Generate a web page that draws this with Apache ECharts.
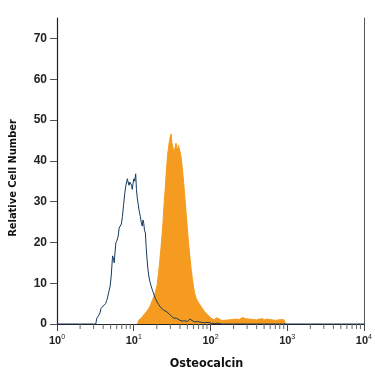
<!DOCTYPE html>
<html>
<head>
<meta charset="utf-8">
<script src="https://cdn.jsdelivr.net/npm/echarts@6/dist/echarts.min.js"></script>
<style>html,body{margin:0;padding:0;background:#fff}#c{width:375px;height:375px}</style>
</head>
<body>
<div id="c"></div>
<script>
// Orange (Osteocalcin stained) histogram: [fluorescence, relative cell number]
var stainedData = [[11.2,0],[11.7,1.0],[12.5,1.4],[13.2,1.8],[14.0,2.6],[14.9,3.2],[15.7,3.8],[16.5,4.6],[17.3,5.6],[18.2,6.6],[19.1,7.8],[20.1,9.4],[20.9,12],[21.7,15],[22.5,18],[23.3,21.5],[24.0,24.5],[24.4,27],[25.0,30],[25.7,33],[26.3,36],[27.0,39],[27.6,41.5],[28.3,43],[29.0,44.5],[29.8,45.7],[30.7,46.6],[31.4,44.5],[32.2,43.6],[32.9,42.5],[33.5,41.8],[34.5,43.2],[35.6,44.3],[36.3,43.4],[37.4,42.6],[38.3,43.8],[39.3,43.4],[40.0,42.2],[41.2,41.3],[42.2,39.5],[43.3,37.6],[44.8,34.5],[46.4,31],[48.0,27.5],[49.7,24],[51.7,20],[53.8,16.7],[56.0,13.5],[58.2,11],[60.3,9],[62.4,7.4],[65.5,6.2],[68.9,5.4],[72.3,4.8],[76.0,4.2],[79.9,3.6],[83.9,3.0],[88.1,2.6],[92.6,2.2],[97,1.8],[102,1.4],[107,1.2],[113,1.0],[118,1.5],[122,1.9],[126,1.4],[131,1.0],[137,0.9],[145,1.1],[153,0.9],[162,1.2],[171,1.0],[180,0.8],[190,1.1],[200,1.0],[212,1.2],[224,0.9],[237,1.1],[250,1.3],[262,1.6],[274,1.9],[287,1.3],[300,1.0],[318,1.2],[337,0.9],[357,1.1],[378,1.3],[400,1.0],[425,1.2],[450,0.9],[478,1.3],[508,1.0],[540,1.2],[573,0.9],[608,1.1],[645,1.3],[685,0.9],[727,1.2],[772,1.0],[820,1.1],[870,1.3],[915,1.0],[940,1.1],[950,0]];

// Blue outline (isotype control) histogram
var controlData = [[1,0],[3.2,0],[3.24,0.2],[3.3,1.4],[3.5,1.5],[3.6,2.5],[3.75,3.8],[3.9,3.5],[4.0,4.4],[4.14,4.2],[4.3,5],[4.45,5.8],[4.57,6.6],[4.75,8],[4.94,9.4],[5.1,12],[5.30,16.7],[5.45,16],[5.57,15],[5.7,17.5],[5.85,19.9],[6.05,20.5],[6.27,21.5],[6.45,23.5],[6.65,24],[6.9,24.5],[7.12,26.3],[7.35,29],[7.63,32],[7.9,34],[8.26,35.6],[8.45,34.8],[8.67,34],[8.9,34.8],[9.12,35.2],[9.35,34],[9.57,33],[9.8,34.5],[10.06,35.6],[10.3,35],[10.6,36.8],[10.85,33],[11.1,31],[11.4,29.5],[11.7,28],[12.0,27],[12.2,26.3],[12.5,25],[12.9,24],[13.2,25.5],[13.5,24.7],[13.8,23],[14.2,22.3],[14.5,19],[14.9,15.9],[15.3,13.5],[15.7,11.8],[16.2,10.5],[16.8,9.4],[17.5,8.3],[18.2,7.4],[19.1,6.3],[20.1,5.4],[21.1,4.8],[22.2,4.2],[23.3,3.8],[24.4,3.4],[25.7,3.0],[27.0,3.0],[28.3,2.6],[29.8,2.2],[31.3,1.8],[32.9,1.5],[34.5,1.7],[36.3,1.4],[38.2,1.0],[40.0,0.9],[43.3,0.7],[46.4,0.8],[50,0.6],[53.8,1.2],[57,0.8],[62,0.5],[68,0.6],[76,0.4],[84,0.3],[93,0.4],[102,0.2],[113,0.1],[119,0.5],[125,0.2],[140,0],[10000,0]];

// Axis settings
var xMin = 1, xMax = 10000;
var xTickExponents = ['0','1','2','3','4'];
var minorTickValues = [2,3,4,5,6,7,8,9,20,30,40,50,60,70,80,90,200,300,400,500,600,700,800,900,2000,3000,4000,5000,6000,7000,8000,9000];
var yMin = 0, yMax = 75, yInterval = 10;
var xTitle = 'Osteocalcin';
var yTitle = 'Relative Cell Number';

var numFont = "'Liberation Sans', Arial, Roboto, 'DejaVu Sans', sans-serif";
var titleFont = "'Liberation Sans Narrow', 'DejaVu Sans Condensed', 'Roboto Condensed', Roboto, sans-serif";

var chart = echarts.init(document.getElementById('c'), null, {renderer: 'canvas'});
var axisColor = '#222';
var option = {
  animation: false,
  backgroundColor: '#fff',
  grid: {left: 55, right: 8, top: 18, bottom: 46},
  xAxis: {
    type: 'log', logBase: 10, min: xMin, max: xMax,
    axisLine: {show: true, lineStyle: {color: axisColor, width: 1.2}},
    axisTick: {show: true, length: 7, lineStyle: {color: '#444'}},
    splitLine: {show: false},
    minorTick: {show: false},
    axisLabel: {
      margin: 10,
      formatter: function (v) {
        var e = Math.round(Math.log10(v));
        return '{b|10}{s|' + xTickExponents[e] + '}';
      },
      rich: {
        b: {fontFamily: numFont, fontSize: 11, color: '#222', fontWeight: 'bold'},
        s: {fontFamily: numFont, fontSize: 7, color: '#222', padding: [0, 0, 6, 0]}
      }
    },
    name: xTitle, nameLocation: 'middle', nameGap: 33,
    nameTextStyle: {fontFamily: titleFont, fontWeight: 'bold', fontSize: 12.5, color: '#111', padding: [0, 8, 0, 0]}
  },
  yAxis: [{
    type: 'value', min: yMin, max: yMax, interval: yInterval,
    axisLine: {show: true, lineStyle: {color: axisColor, width: 1.2}},
    axisTick: {show: true, length: 7, lineStyle: {color: '#555'}},
    splitLine: {show: false},
    axisLabel: {margin: 10, showMaxLabel: false, fontFamily: numFont, fontWeight: 'bold', fontSize: 12, color: '#222'},
    name: yTitle, nameLocation: 'middle', nameGap: 38, nameRotate: 90,
    nameTextStyle: {fontFamily: titleFont, fontWeight: 'bold', fontSize: 11, color: '#111', padding: [0, 0, 0, -14]}
  }, {
    type: 'value', position: 'right', min: yMin, max: yMax, interval: yInterval,
    axisLine: {show: true, lineStyle: {color: '#555', width: 1}},
    axisTick: {show: false}, axisLabel: {show: false}, splitLine: {show: false}
  }],
  series: [{
    type: 'line', data: stainedData, symbol: 'none',
    lineStyle: {color: '#F59B20', width: 1},
    areaStyle: {color: '#F59B20', opacity: 1},
    z: 2
  }, {
    type: 'line', data: controlData, symbol: 'none',
    lineStyle: {color: '#173a5e', width: 1},
    z: 3
  }, {
    type: 'custom', data: minorTickValues.map(function (v) { return [v, 0]; }),
    clip: false, silent: true, z: 4,
    renderItem: function (params, api) {
      var p = api.coord([api.value(0), 0]);
      return {type: 'line', shape: {x1: p[0], y1: p[1], x2: p[0], y2: p[1] + 5},
              style: {stroke: '#666', lineWidth: 1}};
    }
  }]
};
chart.setOption(option);
</script>
</body>
</html>
